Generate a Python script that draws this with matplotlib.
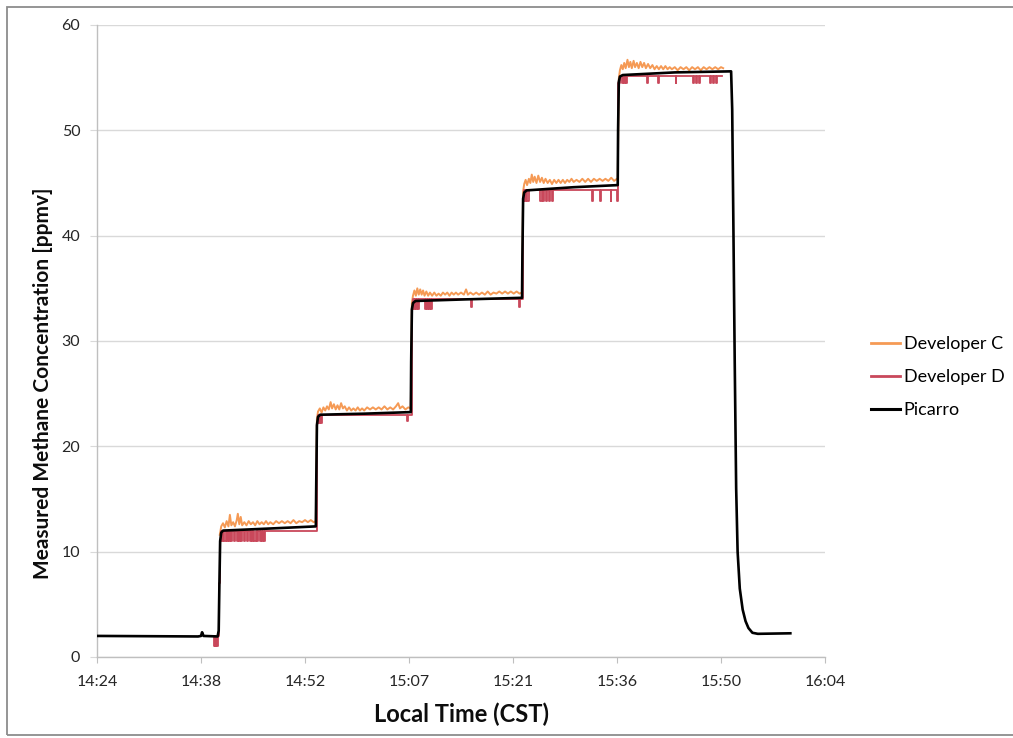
import matplotlib
matplotlib.use("Agg")
import matplotlib.pyplot as plt
from matplotlib.patches import Rectangle
from matplotlib.lines import Line2D

# ---- data: time in minutes after 14:00 local (CST), concentration in ppmv ----
picarro_t = [24.0, 38.0, 38.4, 38.55, 38.75, 40.7, 40.85, 40.95, 41.05, 41.2, 41.45, 48.0, 54.3,
             54.35, 54.45, 54.6, 54.9, 61.0, 67.45,
             67.5, 67.6, 67.75, 68.1, 75.0, 82.85,
             82.9, 83.0, 83.15, 83.5, 90.0, 96.1,
             96.15, 96.25, 96.4, 96.8, 104.0, 111.8,
             111.95, 112.1, 112.3, 112.5, 112.7, 113.0, 113.4, 113.8, 114.2, 114.75, 115.5, 120.0]
picarro_v = [2.0, 1.95, 2.0, 2.35, 2.0, 1.95, 2.5, 7.0, 11.0, 11.8, 12.0, 12.2, 12.4,
             16.0, 22.0, 22.8, 23.0, 23.1, 23.25,
             28.0, 33.0, 33.6, 33.8, 33.95, 34.1,
             38.0, 43.5, 44.1, 44.3, 44.6, 44.8,
             50.0, 54.6, 55.1, 55.25, 55.5, 55.6,
             52.0, 42.0, 28.0, 16.0, 10.0, 6.5, 4.5, 3.4, 2.75, 2.3, 2.2, 2.25]

dev_c_t = [41.0, 41.2, 41.45, 41.7, 41.95, 42.2, 42.4, 42.6, 42.85, 43.1, 43.35, 43.5, 43.7, 43.9,
           44.1, 44.4, 44.7, 45.0, 45.3, 45.6, 45.9, 46.2, 46.5, 46.8, 47.1, 47.4, 47.7, 48.0,
           48.4, 48.8, 49.2, 49.6, 50.0, 50.4, 50.8, 51.2, 51.6, 52.0, 52.4, 52.8, 53.2, 53.6,
           54.0, 54.3,
           54.45, 54.6, 54.85, 55.1, 55.35, 55.6, 55.85, 56.1, 56.35, 56.55, 56.8, 57.05, 57.3,
           57.55, 57.8, 58.05, 58.3, 58.6, 58.9, 59.2, 59.5, 59.8, 60.1, 60.4, 60.7, 61.0, 61.4,
           61.8, 62.2, 62.6, 63.0, 63.4, 63.8, 64.2, 64.6, 65.0, 65.4, 65.7, 65.95, 66.3, 66.7,
           67.1, 67.45,
           67.6, 67.75, 67.95, 68.15, 68.35, 68.55, 68.75, 68.95, 69.15, 69.35, 69.6, 69.85, 70.1,
           70.4, 70.7, 71.0, 71.3, 71.6, 71.9, 72.2, 72.5, 72.8, 73.1, 73.4, 73.7, 74.0, 74.4,
           74.8, 75.1, 75.35, 75.7, 76.1, 76.5, 76.9, 77.3, 77.7, 78.1, 78.5, 78.9, 79.3, 79.7,
           80.1, 80.5, 80.9, 81.3, 81.7, 82.1, 82.5, 82.85,
           83.0, 83.15, 83.35, 83.55, 83.8, 84.0, 84.2, 84.4, 84.6, 84.85, 85.1, 85.35, 85.6,
           85.85, 86.1, 86.4, 86.7, 87.0, 87.3, 87.6, 87.9, 88.2, 88.5, 88.8, 89.1, 89.4, 89.7,
           90.0, 90.4, 90.8, 91.2, 91.6, 92.0, 92.4, 92.8, 93.2, 93.6, 94.0, 94.4, 94.8, 95.2,
           95.6, 96.0, 96.1,
           96.25, 96.4, 96.6, 96.8, 97.0, 97.2, 97.45, 97.65, 97.85, 98.05, 98.3, 98.5, 98.75,
           99.0, 99.25, 99.5, 99.75, 100.0, 100.3, 100.6, 100.9, 101.2, 101.5, 101.8, 102.1,
           102.4, 102.7, 103.0, 103.3, 103.6, 104.0, 104.4, 104.8, 105.2, 105.6, 106.0, 106.4,
           106.8, 107.2, 107.6, 108.0, 108.4, 108.8, 109.2, 109.6, 110.0, 110.4, 110.7]
dev_c_v = [11.6, 12.4, 12.7, 12.3, 12.9, 12.4, 13.5, 12.5, 12.8, 12.4, 13.0, 13.6, 12.6, 13.3,
           12.5, 12.8, 12.5, 12.9, 12.6, 12.8, 12.5, 12.9, 12.6, 12.8, 12.6, 12.9, 12.6, 12.8,
           12.6, 12.9, 12.7, 12.9, 12.7, 12.9, 12.7, 13.0, 12.7, 12.9, 12.8, 13.0, 12.8, 13.0,
           12.8, 12.9,
           22.6, 23.3, 23.6, 23.2, 23.7, 23.4, 23.8, 23.5, 24.2, 23.6, 24.0, 23.5, 23.9,
           23.5, 24.1, 23.6, 23.8, 23.4, 23.7, 23.4, 23.6, 23.4, 23.7, 23.4, 23.6, 23.4, 23.7,
           23.5, 23.7, 23.5, 23.7, 23.5, 23.8, 23.5, 23.7, 23.5, 23.8, 24.1, 23.6, 23.8, 23.5,
           23.7, 23.6,
           33.6, 34.3, 34.8, 34.3, 35.0, 34.4, 34.9, 34.4, 34.8, 34.3, 34.7, 34.3, 34.6,
           34.3, 34.6, 34.3, 34.5, 34.3, 34.6, 34.4, 34.6, 34.3, 34.6, 34.4, 34.6, 34.4, 34.6,
           34.4, 34.9, 34.4, 34.6, 34.4, 34.6, 34.4, 34.6, 34.4, 34.7, 34.4, 34.6, 34.5, 34.7,
           34.5, 34.7, 34.5, 34.7, 34.5, 34.7, 34.5, 34.6,
           44.2, 44.9, 45.3, 44.8, 45.4, 45.0, 45.8, 45.1, 45.6, 45.0, 45.7, 45.1, 45.5,
           45.0, 45.4, 45.0, 45.3, 44.9, 45.3, 45.0, 45.3, 45.0, 45.3, 45.0, 45.3, 45.1, 45.4,
           45.1, 45.3, 45.1, 45.4, 45.1, 45.4, 45.1, 45.4, 45.2, 45.4, 45.2, 45.4, 45.2, 45.5,
           45.2, 45.4, 45.3,
           54.9, 55.7, 56.2, 55.8, 56.4, 55.9, 56.7, 56.0, 56.5, 55.9, 56.6, 56.0, 56.4,
           55.9, 56.5, 56.0, 56.4, 55.9, 56.3, 55.9, 56.2, 55.8, 56.1, 55.8, 56.1,
           55.8, 56.1, 55.8, 56.0, 55.8, 56.0, 55.7, 56.0, 55.8, 56.0, 55.7, 56.0,
           55.8, 56.0, 55.7, 56.0, 55.8, 56.0, 55.8, 56.0, 55.8, 56.0, 55.9]

dev_d_t = [40.0, 40.2, 40.3, 40.4, 40.5, 40.6, 40.7, 40.9, 41.0, 41.2, 41.35, 41.5, 41.65, 41.8,
           41.95, 42.1, 42.25,
           42.45, 42.6, 42.75, 42.9, 43.05, 43.35, 43.5, 43.65, 43.8, 43.95, 44.1, 44.4, 44.55,
           44.7, 44.85, 45.2, 45.35, 45.5, 45.65, 45.8, 45.95, 46.1, 46.25, 46.55, 46.7, 46.85,
           47.0, 47.15, 47.3,
           54.45, 54.6, 54.75, 54.9, 55.05, 55.2, 66.9, 67.0,
           67.55, 67.7, 67.85, 68.0, 68.15, 68.3, 68.45, 68.6, 69.4, 69.55, 69.7, 69.85, 70.0,
           70.15, 70.3, 70.45, 75.8, 75.9, 82.45, 82.55,
           82.95, 83.1, 83.3, 83.45, 83.6, 83.75, 85.4, 85.55, 85.7, 85.85, 86.1, 86.25, 86.6,
           86.75, 87.0, 87.15, 92.6, 92.7, 93.7, 93.8, 95.1, 95.2, 96.0, 96.1,
           96.2, 96.35, 96.7, 96.85, 97.0, 97.15, 97.3, 97.45, 100.2, 100.3, 101.7, 101.8,
           104.1, 104.2, 106.5, 106.65, 106.9, 107.05, 107.3, 107.45, 108.9, 109.05, 109.3,
           109.45, 109.7, 109.85, 110.6]
dev_d_v = [2.0, 1.0, 2.0, 1.0, 1.8, 1.0, 2.0, 7.0, 11.0, 12.0, 11.0, 12.0, 11.0, 12.0,
           11.0, 12.0, 11.0,
           12.0, 11.0, 12.0, 11.0, 12.0, 11.0, 12.0, 11.0, 12.0, 11.0, 12.0, 11.0, 12.0,
           11.0, 12.0, 11.0, 12.0, 11.0, 12.0, 11.0, 12.0, 11.0, 12.0, 11.0, 12.0, 11.0,
           12.0, 11.0, 12.0,
           22.2, 23.0, 22.2, 23.0, 22.2, 23.0, 22.4, 23.0,
           33.0, 34.0, 33.0, 34.0, 33.0, 34.0, 33.0, 34.0, 33.0, 34.0, 33.0, 34.0, 33.0,
           34.0, 33.0, 34.0, 33.2, 34.0, 33.2, 34.0,
           43.3, 44.3, 43.3, 44.3, 43.3, 44.3, 43.3, 44.3, 43.3, 44.3, 43.3, 44.3, 43.3,
           44.3, 43.3, 44.3, 43.3, 44.3, 43.3, 44.3, 43.3, 44.3, 43.3, 44.3,
           54.5, 55.2, 54.5, 55.2, 54.5, 55.2, 54.5, 55.2, 54.5, 55.2, 54.5, 55.2,
           54.5, 55.2, 54.5, 55.2, 54.5, 55.2, 54.5, 55.2, 54.5, 55.2, 54.5,
           55.2, 54.5, 55.2, 55.2]

# x axis runs in fractions of a day, ticks every 0.01 day
x_ticks_day = [0.60, 0.61, 0.62, 0.63, 0.64, 0.65, 0.66, 0.67]
x_tick_labels = ["14:24", "14:38", "14:52", "15:07", "15:21", "15:36", "15:50", "16:04"]
y_ticks = [0, 10, 20, 30, 40, 50, 60]

series_names = ["Developer C", "Developer D", "Picarro"]


def to_day(minutes_after_14):
    return [(14 * 60 + m) / 1440.0 for m in minutes_after_14]


FONT = ["Lato", "DejaVu Sans"]
plt.rcParams["font.family"] = FONT

W, H = 1013, 738
fig = plt.figure(figsize=(W / 100, H / 100), dpi=100)
fig.patch.set_facecolor("white")

# thin grey frame around the whole chart
fig.add_artist(Rectangle((7 / W, 3 / H), 1.2, (735 - 7) / H, transform=fig.transFigure,
                         fill=False, edgecolor="#8c8c8c", linewidth=1.3))

ax = fig.add_axes([97 / W, (H - 657) / H, (825 - 97) / W, (657 - 25) / H])

col_c = "#F59A55"
col_d = "#C9485B"
col_p = "#000000"

ax.plot(to_day(dev_c_t), dev_c_v, color=col_c, lw=1.4, label=series_names[0], zorder=3)
ax.plot(to_day(dev_d_t), dev_d_v, color=col_d, lw=1.3, drawstyle="steps-post",
        label=series_names[1], zorder=4)
ax.plot(to_day(picarro_t), picarro_v, color=col_p, lw=1.9, label=series_names[2], zorder=5,
        solid_joinstyle="round")

ax.set_xlim(x_ticks_day[0], x_ticks_day[-1])
ax.set_ylim(y_ticks[0], y_ticks[-1])
ax.set_xticks(x_ticks_day)
ax.set_xticklabels(x_tick_labels)
ax.set_yticks(y_ticks)

ax.grid(axis="y", color="#d9d9d9", lw=1.0)
ax.set_axisbelow(True)
for side in ("top", "right"):
    ax.spines[side].set_visible(False)
for side in ("left", "bottom"):
    ax.spines[side].set_color("#bfbfbf")
    ax.spines[side].set_linewidth(1.0)

ax.tick_params(axis="x", length=4, color="#bfbfbf", labelsize=11.5, pad=9, labelcolor="#262626")
ax.tick_params(axis="y", length=5, color="#d9d9d9", labelsize=11.5, pad=7, labelcolor="#262626")

fig.text(43 / W, 1 - 383 / H, "Measured Methane Concentration [ppmv]", rotation=90,
         ha="center", va="center", fontsize=15, fontweight="bold", color="#0d0d0d")
fig.text(461 / W, 1 - 714 / H, "Local Time (CST)", ha="center", va="center",
         fontsize=17, fontweight="bold", color="#0d0d0d")

handles = [Line2D([], [], color=col_c, lw=2),
           Line2D([], [], color=col_d, lw=2),
           Line2D([], [], color=col_p, lw=2.2)]
fig.legend(handles, series_names, loc="center left",
           bbox_to_anchor=(855 / W, 1 - 377 / H), frameon=False, fontsize=13,
           handlelength=1.6, handletextpad=0.2, labelspacing=0.95)

fig.savefig("out.png", dpi=100, facecolor="white")
